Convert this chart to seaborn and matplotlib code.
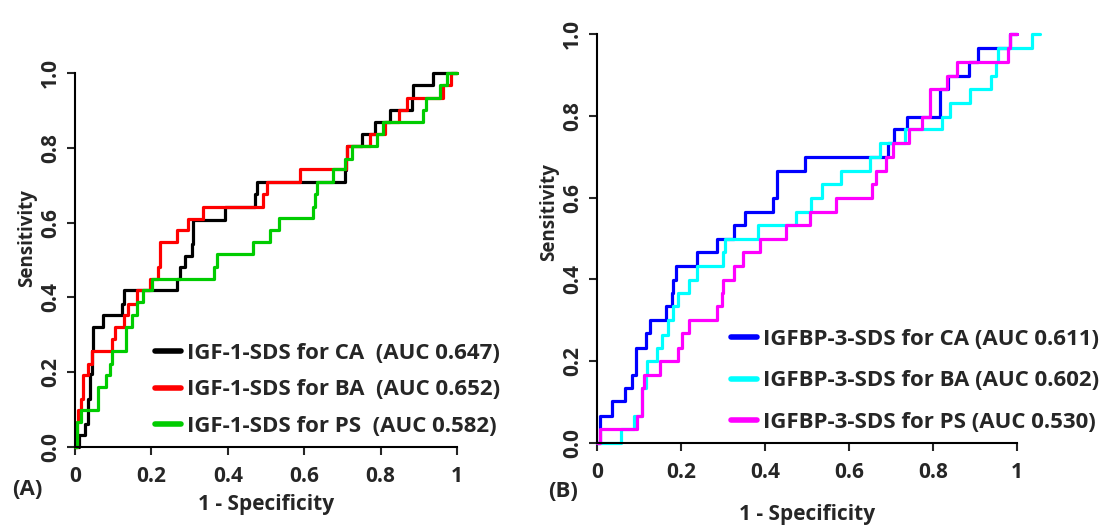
import pandas as pd
import matplotlib
matplotlib.use("Agg")
import matplotlib.pyplot as plt
import seaborn as sns

# ROC corner points (1 - specificity, sensitivity)
ca_fpr = [0, 0.011, 0.026, 0.035, 0.039, 0.044, 0.048, 0.074, 0.122, 0.127,
          0.266, 0.275, 0.288, 0.306, 0.310, 0.393, 0.472, 0.476, 0.707, 0.709,
          0.712, 0.751, 0.786, 0.824, 0.882, 0.884, 0.937, 1.0]
ca_tpr = [0, 0.031, 0.062, 0.129, 0.196, 0.258, 0.321, 0.352, 0.383, 0.419,
          0.45, 0.481, 0.512, 0.544, 0.608, 0.642, 0.677, 0.709, 0.740, 0.771,
          0.804, 0.838, 0.869, 0.902, 0.934, 0.967, 1.0, 1.0]

ba_fpr = [0, 0.004, 0.009, 0.017, 0.022, 0.035, 0.044, 0.096, 0.105, 0.127,
          0.140, 0.162, 0.197, 0.218, 0.223, 0.266, 0.297, 0.334, 0.492, 0.502,
          0.588, 0.710, 0.712, 0.773, 0.812, 0.847, 0.869, 0.963, 0.983, 1.0]
ba_tpr = [0, 0.067, 0.098, 0.129, 0.192, 0.223, 0.258, 0.29, 0.321, 0.352,
          0.383, 0.419, 0.45, 0.481, 0.548, 0.579, 0.61, 0.643, 0.677, 0.709,
          0.742, 0.771, 0.804, 0.838, 0.869, 0.902, 0.934, 0.967, 1.0, 1.0]

ps_fpr = [0, 0.004, 0.015, 0.061, 0.081, 0.092, 0.096, 0.134, 0.148, 0.162,
          0.179, 0.201, 0.364, 0.373, 0.467, 0.511, 0.535, 0.623, 0.629, 0.633,
          0.675, 0.707, 0.725, 0.790, 0.806, 0.911, 0.920, 0.956, 0.974, 1.0]
ps_tpr = [0, 0.067, 0.098, 0.16, 0.192, 0.223, 0.258, 0.321, 0.352, 0.388,
          0.419, 0.45, 0.481, 0.517, 0.548, 0.579, 0.613, 0.642, 0.677, 0.709,
          0.742, 0.771, 0.804, 0.838, 0.869, 0.902, 0.934, 0.967, 1.0, 1.0]

bp_ca_fpr = [0, 0.006, 0.036, 0.067, 0.083, 0.094, 0.117, 0.125, 0.165, 0.178,
             0.182, 0.189, 0.239, 0.285, 0.325, 0.353, 0.420, 0.428, 0.495, 0.693,
             0.708, 0.737, 0.816, 0.836, 0.886, 0.907, 0.983, 1.0]
bp_ca_tpr = [0, 0.065, 0.102, 0.134, 0.167, 0.232, 0.269, 0.301, 0.334, 0.366,
             0.399, 0.433, 0.466, 0.498, 0.533, 0.566, 0.599, 0.665, 0.700, 0.733,
             0.767, 0.798, 0.865, 0.897, 0.932, 0.965, 1.0, 1.0]

bp_ba_fpr = [0, 0.058, 0.089, 0.107, 0.117, 0.119, 0.143, 0.155, 0.170, 0.182,
             0.194, 0.218, 0.238, 0.301, 0.305, 0.384, 0.475, 0.509, 0.535, 0.582,
             0.650, 0.674, 0.733, 0.822, 0.840, 0.887, 0.939, 0.951, 0.955, 1.036, 1.054]
bp_ba_tpr = [0, 0.033, 0.065, 0.134, 0.167, 0.2, 0.232, 0.265, 0.301, 0.334,
             0.366, 0.399, 0.433, 0.466, 0.498, 0.533, 0.566, 0.599, 0.633, 0.665,
             0.700, 0.733, 0.767, 0.798, 0.832, 0.865, 0.897, 0.932, 0.965, 1.0, 1.0]

bp_ps_fpr = [0, 0.006, 0.095, 0.107, 0.111, 0.151, 0.192, 0.202, 0.220, 0.285,
             0.297, 0.301, 0.325, 0.347, 0.387, 0.450, 0.506, 0.569, 0.654, 0.664,
             0.688, 0.705, 0.743, 0.775, 0.794, 0.834, 0.857, 0.979, 0.984, 1.0]
bp_ps_tpr = [0, 0.033, 0.065, 0.134, 0.167, 0.2, 0.232, 0.269, 0.301, 0.334,
             0.366, 0.399, 0.433, 0.466, 0.498, 0.533, 0.566, 0.599, 0.633, 0.665,
             0.700, 0.733, 0.767, 0.798, 0.865, 0.897, 0.932, 0.965, 1.0, 1.0]

labels_a = ["IGF-1-SDS for CA  (AUC 0.647)", "IGF-1-SDS for BA  (AUC 0.652)",
            "IGF-1-SDS for PS  (AUC 0.582)"]
labels_b = ["IGFBP-3-SDS for CA (AUC 0.611)", "IGFBP-3-SDS for BA (AUC 0.602)",
            "IGFBP-3-SDS for PS (AUC 0.530)"]
colors_a = ["#000000", "#ff0000", "#00cc00"]
colors_b = ["#0000ff", "#00ffff", "#ff00ff"]
ticks = [0, 0.2, 0.4, 0.6, 0.8, 1.0]
xtick_labels = ["0", "0.2", "0.4", "0.6", "0.8", "1"]
ytick_labels = ["0.0", "0.2", "0.4", "0.6", "0.8", "1.0"]


def make_df(curves, labels):
    parts = []
    for (x, y), lab in zip(curves, labels):
        parts.append(pd.DataFrame({"fpr": x, "tpr": y, "curve": lab}))
    return pd.concat(parts, ignore_index=True)


df_a = make_df([(ca_fpr, ca_tpr), (ba_fpr, ba_tpr), (ps_fpr, ps_tpr)], labels_a)
df_b = make_df([(bp_ca_fpr, bp_ca_tpr), (bp_ba_fpr, bp_ba_tpr),
                (bp_ps_fpr, bp_ps_tpr)], labels_b)

sns.set_style("ticks")
plt.rcParams["font.family"] = ["Open Sans", "DejaVu Sans"]
plt.rcParams["font.weight"] = "bold"

fig = plt.figure(figsize=(11.06, 5.29), dpi=100)
ax_a = fig.add_axes([0.0678, 0.155, 0.3454, 0.707])
ax_b = fig.add_axes([0.5398, 0.1626, 0.3797, 0.773])

# axes, data, labels, colours, legend anchor, legend row spacing, ylabel centre
panels = [
    (ax_a, df_a, labels_a, colors_a, (0.186, 0.302), 0.69, 0.56),
    (ax_b, df_b, labels_b, colors_b, (0.298, 0.30), 0.91, 0.565),
]

for ax, df, labels, colors, leg_anchor, spacing, ylab_y in panels:
    sns.lineplot(data=df, x="fpr", y="tpr", hue="curve", hue_order=labels,
                 palette=colors, estimator=None, sort=False,
                 drawstyle="steps-post", linewidth=2.3, ax=ax, clip_on=False)
    ax.set_xlim(0, 1)
    ax.set_ylim(0, 1)
    ax.set_xticks(ticks)
    ax.set_xticklabels(xtick_labels, fontsize=15, fontweight="bold")
    ax.set_yticks(ticks)
    ax.set_yticklabels(ytick_labels, fontsize=15, fontweight="bold",
                       rotation=90, va="center")
    ax.tick_params(axis="x", direction="out", length=6, width=1.5, pad=8)
    ax.tick_params(axis="y", direction="out", length=6, width=1.5, pad=4)
    for s in ["left", "bottom"]:
        ax.spines[s].set_linewidth(1.5)
        ax.spines[s].set_color("black")
    sns.despine(ax=ax)
    ax.set_xlabel("1 - Specificity", fontsize=15, fontweight="bold")
    ax.set_ylabel("Sensitivity", fontsize=13.5, fontweight="bold", y=ylab_y)
    leg = ax.legend(loc="upper left", bbox_to_anchor=leg_anchor, frameon=False,
                    handlelength=1.17, handletextpad=0.27, labelspacing=spacing,
                    borderaxespad=0, prop={"size": 16, "weight": "bold"})
    for h in leg.get_lines():
        h.set_linewidth(4)

ax_a.xaxis.labelpad = 5
ax_b.xaxis.labelpad = 15
ax_a.yaxis.labelpad = 2
ax_b.yaxis.labelpad = 2

fig.text(0.011, 0.0756, "(A)", fontsize=16, fontweight="bold", va="center")
fig.text(0.4955, 0.07, "(B)", fontsize=16, fontweight="bold", va="center")

fig.savefig("out.png", dpi=100)
